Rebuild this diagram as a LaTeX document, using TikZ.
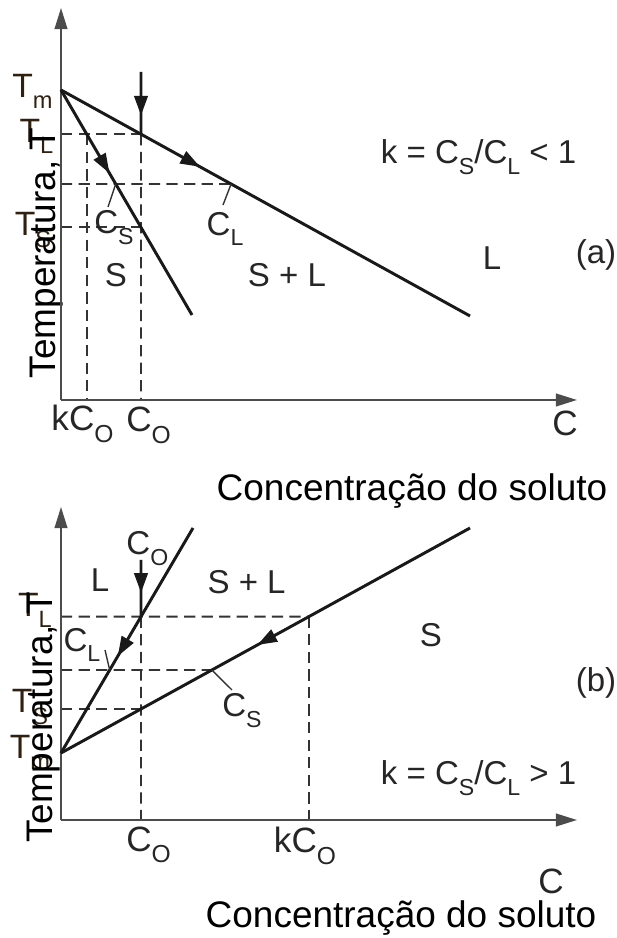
\documentclass[tikz,border=0pt]{standalone}
\usepackage{fontspec}
\setmainfont{Liberation Sans}
\usepackage{graphicx}
\usetikzlibrary{arrows.meta,decorations.markings}

% lowered, smaller subscript as in the figure
\newcommand{\lsub}[1]{\raisebox{-0.33em}{\scalebox{0.7}{#1}}}

\tikzset{
  axisline/.style={line width=1.4pt, draw=black!70, -{Triangle[length=15pt,width=9pt]}},
  phase/.style={line width=2.1pt, draw=black!90},
  guide/.style={line width=1.3pt, draw=black!80, dash pattern=on 8pt off 4.5pt},
  pointer/.style={line width=1pt, draw=black!80},
  flow/.style={postaction={decorate}, decoration={markings,
      mark=at position #1 with {\arrow{Triangle[length=14pt,width=9.5pt]}}}},
  lab/.style={font=\fontsize{23.5}{28}\selectfont, text=black!85, inner sep=0pt},
  axlab/.style={font=\fontsize{25}{30}\selectfont, text=black!85, inner sep=0pt},
  tlab/.style={font=\fontsize{24}{28}\selectfont, text=black!75!brown, inner sep=0pt},
  bigtext/.style={font=\fontsize{26.3}{31}\selectfont, inner sep=0pt},
}

\begin{document}
\begin{tikzpicture}
  \useasboundingbox (0,0) rectangle (15.4,23.45);

  % ---------- (a) k < 1 ----------
  \begin{scope}[shift={(1.525,13.45)}]
    % Axes
    \coordinate (Oa) at (0,0);
    \coordinate (Ya) at (0,9.8);
    \coordinate (Xa) at (12.9,0);

    % Liquidus and solidus from the melting point
    \coordinate (Tma) at (0,7.75);
    \coordinate (La) at (10.225,2.1);
    \coordinate (Sa) at (3.275,2.125);

    % Alloy composition C0
    \coordinate (C0topa) at (2,8.2);
    \coordinate (C0bota) at (2,0);
    \coordinate (TLa) at (intersection of Tma--La and C0topa--C0bota);
    \coordinate (TSa) at (intersection of Tma--Sa and C0topa--C0bota);
    \coordinate (TLya) at (Oa |- TLa);
    \coordinate (kCa) at (intersection of Tma--Sa and TLa--TLya);
    \coordinate (Mya) at (0,5.4);
    \coordinate (Mxa) at (8,5.4);
    \coordinate (CLa) at (intersection of Tma--La and Mya--Mxa);
    \coordinate (CSa) at (intersection of Tma--Sa and Mya--Mxa);
    \coordinate (CSta) at (1.175,4.825);
    \coordinate (CLta) at (4.05,4.875);

    % Temperature labels
    \node[tlab] (tma) at (-0.7125,7.725) {T\lsub{m}};
    \node[tlab] (tla) at (-0.6125,6.6) {T\lsub{L}};
    \node[tlab] (tsa) at (-0.7,4.25) {T\lsub{S}};
    \node[bigtext, rotate=90] (ylaba) at (-0.35,3.675) {Temperatura, T};

    % Dashed guides
    \draw[guide] (TLya) -- (TLa);
    \draw[guide] (Mya) -- (CLa);
    \draw[guide] (Oa |- TSa) -- (TSa);
    \draw[guide] (TLa) -- (C0bota);
    \draw[guide] (kCa) -- (kCa |- Oa);

    \draw[axisline] (Oa) -- (Ya);
    \draw[axisline] (Oa) -- (Xa);

    \draw[phase, flow=0.34] (Tma) -- (La);
    \draw[phase, flow=0.37] (Tma) -- (Sa);
    \draw[phase, flow=0.70] (C0topa) -- (TLa);

    \draw[pointer] (CSa) -- (CSta);
    \draw[pointer] (CLa) -- (CLta);

    % Labels
    \node[lab] (csa) at (1.325,4.3) {C\lsub{S}};
    \node[lab] (cla) at (4.1,4.275) {C\lsub{L}};
    \node[lab] (sa) at (1.375,3.125) {S};
    \node[lab] (sla) at (5.65,3.125) {S + L};
    \node[lab] (la) at (10.775,3.55) {L};
    \node[lab] (taga) at (13.375,3.625) {(a)};
    \node[lab] (ka) at (10.44,6.075) {k = C\lsub{S}/C\lsub{L} < 1};
    \node[axlab] (kc0a) at (0.5375,-0.6) {kC\lsub{O}};
    \node[axlab] (c0a) at (2.19,-0.64) {C\lsub{O}};
    \node[axlab] (ca) at (12.6,-0.59) {C};
    \node[bigtext] (xlaba) at (8.775,-2.275) {Concentração do soluto};
  \end{scope}

  % ---------- (b) k > 1 ----------
  \begin{scope}[shift={(1.525,2.95)}]
    % Axes
    \coordinate (Ob) at (0,0);
    \coordinate (Yb) at (0,7.825);
    \coordinate (Xb) at (12.9,0);

    % Liquidus and solidus from the melting point
    \coordinate (Tmb) at (0,1.675);
    \coordinate (Lb) at (3.3,7.3);
    \coordinate (Sb) at (10.225,7.3);

    % Alloy composition C0
    \coordinate (C0topb) at (2,6.5);
    \coordinate (C0botb) at (2,0);
    \coordinate (TLb) at (intersection of Tmb--Lb and C0topb--C0botb);
    \coordinate (TSb) at (intersection of Tmb--Sb and C0topb--C0botb);
    \coordinate (TLyb) at (Ob |- TLb);
    \coordinate (kCb) at (intersection of Tmb--Sb and TLb--TLyb);
    \coordinate (Myb) at (0,3.75);
    \coordinate (Mxb) at (8,3.75);
    \coordinate (CLb) at (intersection of Tmb--Lb and Myb--Mxb);
    \coordinate (CSb) at (intersection of Tmb--Sb and Myb--Mxb);
    \coordinate (CLtb) at (1.1,4.25);
    \coordinate (CStb) at (4.275,3.25);

    % Temperature labels
    \node[tlab] (tlb) at (-0.65,5.25) {T\lsub{L}};
    \node[tlab] (tsb) at (-0.775,2.825) {T\lsub{S}};
    \node[tlab] (tmb) at (-0.775,1.7) {T\lsub{m}};
    \node[bigtext, rotate=90] (ylabb) at (-0.425,2.56) {Temperatura, T};

    % Dashed guides
    \draw[guide] (TLyb) -- (kCb);
    \draw[guide] (Myb) -- (CSb);
    \draw[guide] (Ob |- TSb) -- (TSb);
    \draw[guide] (TLb) -- (C0botb);
    \draw[guide] (kCb) -- (kCb |- Ob);

    \draw[axisline] (Ob) -- (Yb);
    \draw[axisline] (Ob) -- (Xb);

    \draw[phase, flow=0.57] (Lb) -- (Tmb);
    \draw[phase, flow=0.52] (Sb) -- (Tmb);
    \draw[phase, flow=0.58] (C0topb) -- (TLb);

    \draw[pointer] (CLb) -- (CLtb);
    \draw[pointer] (CSb) -- (CStb);

    % Labels
    \node[lab] (c0topb) at (2.16,6.775) {C\lsub{O}};
    \node[lab] (lb) at (0.975,6.0) {L};
    \node[lab] (slb) at (4.64,5.95) {S + L};
    \node[lab] (sb) at (9.25,4.625) {S};
    \node[lab] (tagb) at (13.375,3.425) {(b)};
    \node[lab] (clb) at (0.525,4.375) {C\lsub{L}};
    \node[lab] (csb) at (4.525,2.725) {C\lsub{S}};
    \node[lab] (kb) at (10.44,1.05) {k = C\lsub{S}/C\lsub{L} > 1};
    \node[axlab] (c0b) at (2.19,-0.625) {C\lsub{O}};
    \node[axlab] (kc0b) at (6.1,-0.65) {kC\lsub{O}};
    \node[axlab] (cb) at (12.25,-1.525) {C};
    \node[bigtext] (xlabb) at (8.5,-2.45) {Concentração do soluto};
  \end{scope}
\end{tikzpicture}
\end{document}
